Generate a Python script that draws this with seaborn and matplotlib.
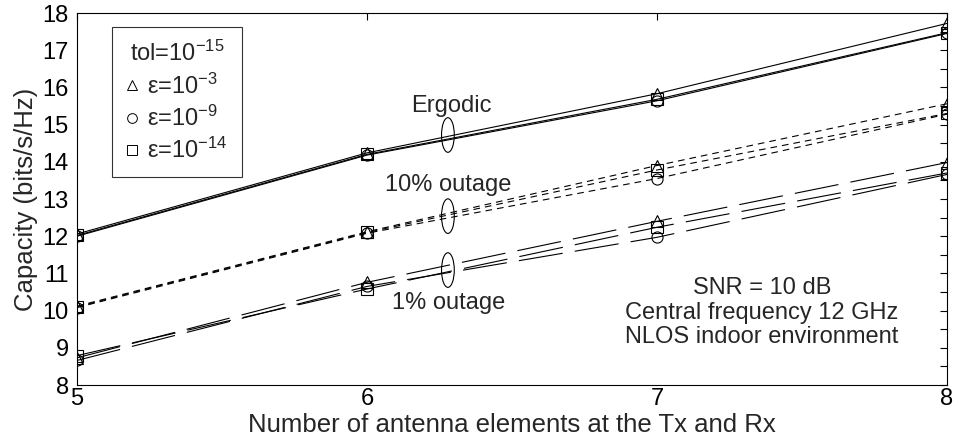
import numpy as np
import pandas as pd
import matplotlib
matplotlib.use("Agg")
import matplotlib.pyplot as plt
import seaborn as sns
from matplotlib.patches import Ellipse
from matplotlib.lines import Line2D
from matplotlib.ticker import MultipleLocator

# ---------------- data ----------------
antennas = [5, 6, 7, 8]
eps_labels = ["1e-3", "1e-9", "1e-14"]

ergodic_e3 = [12.06, 14.24, 15.83, 17.72]
ergodic_e9 = [12.00, 14.18, 15.64, 17.45]
ergodic_e14 = [12.02, 14.20, 15.68, 17.47]

out10_e3 = [10.12, 12.12, 13.90, 15.56]
out10_e9 = [10.08, 12.08, 13.55, 15.28]
out10_e14 = [10.10, 12.10, 13.78, 15.30]

out1_e3 = [8.73, 10.76, 12.40, 13.98]
out1_e9 = [8.66, 10.65, 11.97, 13.66]
out1_e14 = [8.79, 10.58, 12.24, 13.70]

x_ticks = [5, 6, 7, 8]
y_tick_labels = [8, 9, 10, 11, 12, 13, 14, 15, 16, 17, 18]

# ---------------- style ----------------
sns.set_theme(style="white")
plt.rcParams["font.family"] = ["Liberation Sans", "DejaVu Sans"]
plt.rcParams["mathtext.fontset"] = "custom"
plt.rcParams["mathtext.rm"] = "Liberation Sans"
plt.rcParams["mathtext.it"] = "Liberation Sans:italic"

FS = 17
FS_LABEL = 18.5

rows = []
series = {
    ("Ergodic", "1e-3"): ergodic_e3, ("Ergodic", "1e-9"): ergodic_e9, ("Ergodic", "1e-14"): ergodic_e14,
    ("10%", "1e-3"): out10_e3, ("10%", "1e-9"): out10_e9, ("10%", "1e-14"): out10_e14,
    ("1%", "1e-3"): out1_e3, ("1%", "1e-9"): out1_e9, ("1%", "1e-14"): out1_e14,
}
for (grp, eps), vals in series.items():
    for xv, yv in zip(antennas, vals):
        rows.append({"group": grp, "eps": eps, "N": xv, "C": yv})
df = pd.DataFrame(rows)

markers = {"1e-3": "^", "1e-9": "o", "1e-14": "s"}
dashes = {"Ergodic": "-", "10%": (0, (6, 4.5)), "1%": (0, (40, 11))}

fig = plt.figure(figsize=(9.59, 4.47), dpi=100)
ax = fig.add_axes([77 / 959, 1 - 385 / 447, 870 / 959, 372 / 447])

for grp in ["Ergodic", "10%", "1%"]:
    for eps in eps_labels:
        sub = df[(df.group == grp) & (df.eps == eps)]
        sns.lineplot(data=sub, x="N", y="C", ax=ax, color="black", linewidth=0.8,
                     linestyle=dashes[grp], marker=markers[eps], markersize=8,
                     markerfacecolor="none", markeredgecolor="black",
                     markeredgewidth=0.8, legend=False, estimator=None)

ax.set_xlim(5, 8)
ax.set_ylim(8, 18)
ax.set_xticks(x_ticks)
ax.set_xticklabels([str(t) for t in x_ticks])
ax.set_yticks(y_tick_labels)
ax.set_yticklabels([str(t) for t in y_tick_labels])
ax.yaxis.set_minor_locator(MultipleLocator(0.5))
ax.tick_params(which="both", direction="in", top=True, right=True,
               length=5, width=0.8, colors="black", labelsize=FS, pad=6)
ax.tick_params(axis="x", pad=2)
for s in ax.spines.values():
    s.set_color("black")
    s.set_linewidth(0.8)
ax.set_xlabel("Number of antenna elements at the Tx and Rx", fontsize=FS_LABEL, labelpad=2)
ax.set_ylabel("Capacity (bits/s/Hz)", fontsize=FS_LABEL, labelpad=3)

# annotations
ex = 6.279
for cy in [14.72, 12.54, 11.09]:
    ax.add_patch(Ellipse((ex, cy), width=0.044, height=0.93, fill=False,
                         edgecolor="black", linewidth=0.8, zorder=5))
ax.text(6.29, 15.5, "Ergodic", ha="center", va="center", fontsize=FS)
ax.text(6.28, 13.38, "10% outage", ha="center", va="center", fontsize=FS)
ax.text(6.28, 10.2, "1% outage", ha="center", va="center", fontsize=FS)
ax.text(7.362, 9.94, "SNR = 10 dB\nCentral frequency 12 GHz\nNLOS indoor environment",
        ha="center", va="center", fontsize=FS, linespacing=1.15)

# legend
handles = [Line2D([], [], linestyle="none", marker=markers[e], markersize=7,
                  markerfacecolor="none", markeredgecolor="black", markeredgewidth=0.7)
           for e in eps_labels]
labels = ["ε=10$^{-3}$", "ε=10$^{-9}$", "ε=10$^{-14}$"]
leg = ax.legend(handles, labels, title="tol=10$^{-15}$", loc="upper left",
                bbox_to_anchor=(35 / 870, 1 - 14 / 372), fontsize=FS, title_fontsize=FS,
                frameon=True, fancybox=False, edgecolor="black", handlelength=0.5,
                handletextpad=0.4, borderpad=0.6, labelspacing=0.3, borderaxespad=0)
leg.get_frame().set_linewidth(0.8)

fig.savefig("out.png", dpi=100)
